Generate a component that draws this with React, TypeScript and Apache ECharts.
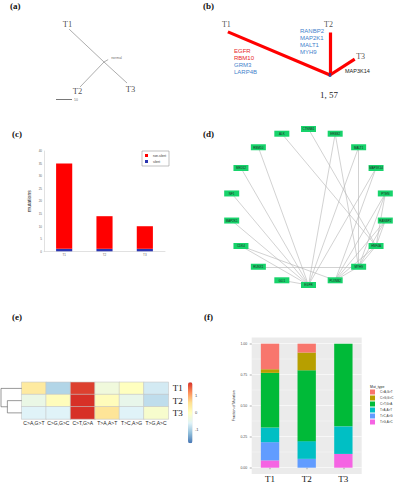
import React, { useEffect, useRef } from 'react';
import * as echarts from 'echarts';

// ---------------- DATA ----------------
// (a) phylogenetic tree: branch lengths (scale bar = 10)
const phyloTips = ['T1', 'T2', 'T3', 'normal'];
const phyloBranchLength = [30, 21.6, 19.5, 3];
const phyloScaleBar = 10;

// (b) mutation tree: private mutations per branch
const mutTips = ['T1', 'T2', 'T3'];
const mutBranchLength = [34, 13, 9];
const mutTrunkLabel = '1, 57';
const genesT1Red = ['EGFR', 'RBM10'];
const genesT1Blue = ['GRM3', 'LARP4B'];
const genesT2Blue = ['RANBP2', 'MAP2K1', 'MALT1', 'MYH9'];
const genesT3 = ['MAP3K14'];

// (c) mutation counts
const samples = ['T1', 'T2', 'T3'];
const nonSilent = [34, 13, 9];
const silent = [1, 1, 1];

// (d) network
const networkGenes = ['RANBP2', 'HNF4A', 'MYH9', 'PLXNB2', 'EGFR', 'GLI1', 'RUNX1', 'CDK4', 'MAP2K1',
  'NF1', 'MED12', 'RBM10', 'ALK', 'CTNNB1', 'ERBB2', 'MALT1', 'MAP3K14', 'PTEN'];
const networkLinks: [number, number][] = [
  [11, 4], [10, 4], [9, 4], [8, 4], [7, 4], [7, 3], [6, 2], [5, 4], [12, 1], [13, 1],
  [14, 4], [14, 2], [15, 2], [15, 4], [16, 4], [16, 3], [17, 3], [17, 2], [17, 1],
  [0, 3], [0, 2], [0, 1], [1, 3], [2, 3], [1, 2],
];

// (e) heatmap (row-scaled)
const mutTypes = ['C>A,G>T', 'C>G,G>C', 'C>T,G>A', 'T>A,A>T', 'T>C,A>G', 'T>G,A>C'];
const zT1 = [0.4, -0.95, 1.7, -0.3, 0.0, -0.7];
const zT2 = [-0.4, 0.05, 1.8, 0.05, -0.45, -0.85];
const zT3 = [-0.6, -0.6, 1.8, 0.5, -0.6, -0.15];
const dendroMergeT2T3 = 1.42;
const dendroMergeRoot = 2.05;
const colorbarTicks = [-1, 0, 1];

// (f) counts per mutation type (order = mutTypes)
const countsT1 = [7, 1, 15, 4, 5, 2];
const countsT2 = [1, 2, 8, 2, 1, 0];
const countsT3 = [0, 0, 6, 2, 0, 1];
const fracTicks = [0, 0.25, 0.5, 0.75, 1];
const fracMinor = [0.125, 0.375, 0.625, 0.875];

// ---------------- STYLE / LAYOUT ----------------
const SERIF = 'Liberation Serif';
const SANS = 'Liberation Sans';
const ggColors = ['#F8766D', '#B79F00', '#00BA38', '#00BFC4', '#619CFF', '#F564E3'];
const heatPalette = ['#4575B4', '#91BFDB', '#E0F3F8', '#FFFFBF', '#FEE090', '#FC8D59', '#D73027'];

// tree a: 1.6 px per unit, tree b: 3.26 px per unit
const A_SCALE = 1.6;
const A_ROOT = [65, 38.75];
const A_ANGLES = [223.3, 133.8, 42.4, -30];
const A_BAR = [35, 62.2];
const B_SCALE = 3.26;
const B_ROOT = [40.8, 23.0];
const B_ANGLES = [202.9, 270, 327.4];

function tip(root: number[], len: number, ang: number) {
  const r = (ang * Math.PI) / 180;
  return [root[0] + len * Math.cos(r), root[1] + len * Math.sin(r)];
}

function buildOption() {
  const aTips = phyloBranchLength.map((l, i) => tip(A_ROOT, l, A_ANGLES[i]));
  const bTips = mutBranchLength.map((l, i) => tip(B_ROOT, l, B_ANGLES[i]));

  const treeLbl = { fontFamily: SERIF, color: '#222' };
  const aLabelPos: any[] = [
    { ...treeLbl, fontSize: 8.5, position: 'top', distance: 1, offset: [-1.5, 0] },
    { ...treeLbl, fontSize: 8.5, position: 'bottom', distance: 0, offset: [-2.5, 0] },
    { ...treeLbl, fontSize: 8.5, position: 'bottom', distance: 0, offset: [3.5, 1] },
    { position: 'right', distance: 3, offset: [0, -2], fontSize: 3.5, fontFamily: SANS, color: '#444' },
  ];
  const bLabelPos: any[] = [
    { ...treeLbl, fontSize: 8, position: 'top', distance: 3, offset: [-1.5, 0] },
    { ...treeLbl, fontSize: 8, position: 'top', distance: 4.5, offset: [-1.5, 0] },
    { ...treeLbl, fontSize: 8, position: 'right', distance: 1.5, offset: [0, -2.7] },
  ];

  const heatData: any[] = [];
  [zT1, zT2, zT3].forEach((row, r) => row.forEach((v, c) => heatData.push([c, r, v])));

  const totals = [countsT1, countsT2, countsT3].map((a) => a.reduce((s, v) => s + v, 0));
  const fSeries = mutTypes
    .map((name, k) => ({
      name,
      type: 'bar',
      xAxisIndex: 5,
      yAxisIndex: 5,
      stack: 'f',
      barWidth: '50%',
      itemStyle: { color: ggColors[k] },
      emphasis: { disabled: true },
      data: [countsT1[k] / totals[0], countsT2[k] / totals[1], countsT3[k] / totals[2]],
    }))
    .reverse();

  const hidden = { show: false };
  const panelLabel = (t: string, left: number, top: number) => ({
    type: 'text', left, top,
    style: { text: t, fontSize: 9, fontWeight: 'bold', fontFamily: SERIF, fill: '#111' },
  });

  return {
    animation: false,
    textStyle: { fontFamily: SANS },
    grid: [
      { left: 0, top: 0, width: 197, height: 125, outerBoundsMode: 'none' },
      { left: 197, top: 0, width: 197, height: 125, outerBoundsMode: 'none' },
      { left: 44, top: 151, width: 121, height: 100.3, outerBoundsMode: 'none' },
      { left: 21.7, top: 382.3, width: 146.6, height: 36.7, outerBoundsMode: 'none' },
      { left: 0.5, top: 382.3, width: 21.2, height: 36.7, outerBoundsMode: 'none' },
      { left: 251.7, top: 337.5, width: 110, height: 136.4, show: true, backgroundColor: '#EBEBEB', borderWidth: 0, outerBoundsMode: 'none' },
      { left: 188, top: 382.3, width: 4.5, height: 61, outerBoundsMode: 'none' },
    ],
    xAxis: [
      { type: 'value', gridIndex: 0, min: 0, max: 197 / A_SCALE, ...hidden },
      { type: 'value', gridIndex: 1, min: 0, max: 197 / B_SCALE, ...hidden },
      {
        type: 'category', gridIndex: 2, data: samples,
        axisLine: { lineStyle: { color: '#cccccc', width: 0.6 } },
        axisTick: { show: false },
        axisLabel: { fontSize: 3, color: '#666', margin: 2 },
      },
      {
        type: 'category', gridIndex: 3, data: mutTypes,
        axisLine: { show: false }, axisTick: { show: false },
        axisLabel: { fontSize: 5, color: '#222', margin: 1.5, interval: 0 },
      },
      { type: 'value', gridIndex: 4, min: 0, max: 2.1, inverse: true, ...hidden },
      {
        type: 'category', gridIndex: 5, data: samples,
        axisLine: { show: false },
        axisTick: { show: true, alignWithLabel: true, length: 1.5, lineStyle: { color: '#333', width: 0.4 } },
        axisLabel: { fontSize: 9, fontFamily: SERIF, color: '#111', margin: 1 },
        splitLine: { show: false },
      },
      { type: 'value', gridIndex: 6, min: 0, max: 1, ...hidden },
    ],
    yAxis: [
      { type: 'value', gridIndex: 0, min: 0, max: 125 / A_SCALE, inverse: true, ...hidden },
      { type: 'value', gridIndex: 1, min: 0, max: 125 / B_SCALE, inverse: true, ...hidden },
      {
        type: 'value', gridIndex: 2, min: 0, max: 40, interval: 5,
        axisLine: { show: true, lineStyle: { color: '#cccccc', width: 0.6 } },
        axisTick: { show: false },
        axisLabel: { fontSize: 3, color: '#666', margin: 2 },
        splitLine: { show: false },
        name: 'mutations', nameLocation: 'middle', nameGap: 13,
        nameTextStyle: { fontSize: 5, color: '#222' },
      },
      {
        type: 'category', gridIndex: 3, data: samples, inverse: true, position: 'right',
        axisLine: { show: false }, axisTick: { show: false },
        axisLabel: { fontSize: 9, fontFamily: SERIF, color: '#111', margin: 4.5 },
      },
      { type: 'value', gridIndex: 4, min: 0, max: 3, inverse: true, ...hidden },
      {
        type: 'value', gridIndex: 5, min: -0.05, max: 1.05,
        axisLine: { show: false },
        axisTick: { show: true, length: 2, customValues: fracTicks, lineStyle: { color: '#333', width: 0.4 } },
        axisLabel: { fontSize: 3.5, color: '#4D4D4D', margin: 4.5, customValues: fracTicks, formatter: (v: number) => v.toFixed(2) },
        splitLine: { show: true, lineStyle: { color: '#ffffff', width: 0.6 } },
        name: 'Fraction of Mutation', nameLocation: 'middle', nameGap: 16,
        nameTextStyle: { fontSize: 3.5, color: '#222' },
      },
      {
        type: 'value', gridIndex: 5, min: -0.05, max: 1.05, position: 'right',
        axisLine: { show: false },
        axisTick: { show: false, customValues: fracMinor },
        axisLabel: { show: false, customValues: fracMinor },
        splitLine: { show: true, lineStyle: { color: '#ffffff', width: 0.3 } },
      },
      {
        type: 'value', gridIndex: 6, min: -1.8, max: 1.8, position: 'right',
        axisLine: { show: false },
        axisTick: { show: false, customValues: colorbarTicks },
        axisLabel: { fontSize: 4, color: '#444', margin: 2.5, customValues: colorbarTicks },
        splitLine: { show: false },
      },
    ],
    visualMap: {
      type: 'continuous', seriesIndex: 6, min: -1.8, max: 1.8,
      left: 188, top: 382.3, itemWidth: 4.5, itemHeight: 61, padding: 0,
      calculable: false, text: null, showLabel: false,
      inRange: { color: heatPalette },
    },
    legend: [
      {
        data: ['non-silent', 'silent'], left: 142, top: 151, orient: 'vertical',
        borderColor: '#999', borderWidth: 0.6, padding: [3, 3, 3, 3],
        itemWidth: 3, itemHeight: 3, itemGap: 3, icon: 'rect',
        textStyle: { fontSize: 3, color: '#333' }, selectedMode: false,
      },
      {
        data: mutTypes, left: 370, top: 389.5, orient: 'vertical', padding: 0,
        itemWidth: 5, itemHeight: 5, itemGap: 1, icon: 'rect',
        textStyle: { fontSize: 3, color: '#333' }, selectedMode: false,
      },
    ],
    graphic: [
      panelLabel('(a)', 10, 1.5),
      panelLabel('(b)', 203, 1.5),
      panelLabel('(c)', 12, 129),
      panelLabel('(d)', 203, 129),
      panelLabel('(e)', 12, 312),
      panelLabel('(f)', 204, 312),
      { type: 'text', left: 234, top: 47.5, style: { text: genesT1Red.join('\n'), fill: '#E8262A', fontSize: 6, lineHeight: 7, fontFamily: SANS } },
      { type: 'text', left: 234, top: 61.5, style: { text: genesT1Blue.join('\n'), fill: '#3F7FCB', fontSize: 6, lineHeight: 7, fontFamily: SANS } },
      { type: 'text', left: 300, top: 27.5, style: { text: genesT2Blue.join('\n'), fill: '#3F7FCB', fontSize: 6, lineHeight: 7, fontFamily: SANS } },
      { type: 'text', left: 345, top: 67.5, style: { text: genesT3.join('\n'), fill: '#222', fontSize: 5.5, fontFamily: SANS } },
      { type: 'text', left: 320, top: 90.5, style: { text: mutTrunkLabel, fill: '#222', fontSize: 9, fontFamily: SERIF } },
      { type: 'text', left: 370, top: 384.5, style: { text: 'Mut_type', fill: '#222', fontSize: 3.5, fontFamily: SANS } },
    ],
    series: [
      {
        type: 'lines', coordinateSystem: 'cartesian2d', xAxisIndex: 0, yAxisIndex: 0,
        lineStyle: { color: '#8a8a8a', width: 0.7, opacity: 1 },
        data: [
          ...aTips.map((t) => ({ coords: [A_ROOT, t] })),
          { coords: [A_BAR, [A_BAR[0] + phyloScaleBar, A_BAR[1]]], lineStyle: { color: '#555', width: 0.8 } },
        ],
        silent: true,
      },
      {
        type: 'scatter', xAxisIndex: 0, yAxisIndex: 0, symbolSize: 0, silent: true,
        itemStyle: { color: '#222' },
        label: { show: true, formatter: '{b}', fontFamily: SERIF, fontSize: 8.5, color: '#222' },
        data: [
          ...phyloTips.map((n, i) => ({ name: n, value: aTips[i], label: aLabelPos[i] })),
          { name: String(phyloScaleBar), value: [A_BAR[0] + phyloScaleBar, A_BAR[1]], label: { position: 'right', distance: 2, fontSize: 3.5, fontFamily: SANS, color: '#444' } },
        ],
      },
      {
        type: 'lines', coordinateSystem: 'cartesian2d', xAxisIndex: 1, yAxisIndex: 1,
        lineStyle: { color: '#FF0000', width: 3.2, opacity: 1 },
        data: bTips.map((t) => ({ coords: [B_ROOT, t] })),
        silent: true,
      },
      {
        type: 'scatter', xAxisIndex: 1, yAxisIndex: 1, symbolSize: 0, silent: true,
        itemStyle: { color: '#222' },
        label: { show: true, formatter: '{b}', fontFamily: SERIF, fontSize: 8, color: '#222' },
        data: [
          ...mutTips.map((n, i) => ({ name: n, value: bTips[i], label: bLabelPos[i] })),
          { name: 'root', value: B_ROOT, symbol: 'rect', symbolSize: [2.5, 4], itemStyle: { color: '#1f3c99' }, label: { show: false } },
        ],
      },
      {
        name: 'silent', type: 'bar', xAxisIndex: 2, yAxisIndex: 2, stack: 'c', barWidth: '40%',
        itemStyle: { color: '#2b35b0' }, data: silent,
      },
      {
        name: 'non-silent', type: 'bar', xAxisIndex: 2, yAxisIndex: 2, stack: 'c', barWidth: '40%',
        itemStyle: { color: '#FF0000' }, data: nonSilent,
      },
      {
        name: 'heat', type: 'heatmap', xAxisIndex: 3, yAxisIndex: 3, data: heatData,
        itemStyle: { borderColor: '#c4c4c4', borderWidth: 0.6 },
        emphasis: { disabled: true },
      },
      {
        type: 'lines', coordinateSystem: 'cartesian2d', xAxisIndex: 4, yAxisIndex: 4, polyline: true,
        lineStyle: { color: '#555', width: 0.6, opacity: 1 },
        data: [
          { coords: [[0, 1.5], [dendroMergeT2T3, 1.5], [dendroMergeT2T3, 2.5], [0, 2.5]] },
          { coords: [[0, 0.5], [dendroMergeRoot, 0.5], [dendroMergeRoot, 2.0], [dendroMergeT2T3, 2.0]] },
        ],
        silent: true,
      },
      ...fSeries,
      {
        type: 'graph', layout: 'circular', left: 230.5, top: 129, width: 156, height: 156,
        symbol: 'rect', symbolSize: [15, 6],
        itemStyle: { color: '#17D36B' },
        label: { show: true, position: 'inside', fontSize: 3, color: '#222' },
        lineStyle: { color: '#b4b4b4', width: 0.6, opacity: 1, curveness: 0 },
        emphasis: { disabled: true },
        data: networkGenes.map((name) => ({ name })),
        links: networkLinks.map(([s, t]) => ({ source: networkGenes[s], target: networkGenes[t] })),
      },
    ],
  };
}

export default function App() {
  const ref = useRef<HTMLDivElement>(null);
  useEffect(() => {
    const chart = echarts.init(ref.current!, null, { renderer: 'svg' });
    chart.setOption(buildOption() as any);
    return () => chart.dispose();
  }, []);
  return (
    <div
      ref={ref}
      style={{ position: 'absolute', left: 0, top: 0, width: 394, height: 484, background: '#ffffff' }}
    />
  );
}
